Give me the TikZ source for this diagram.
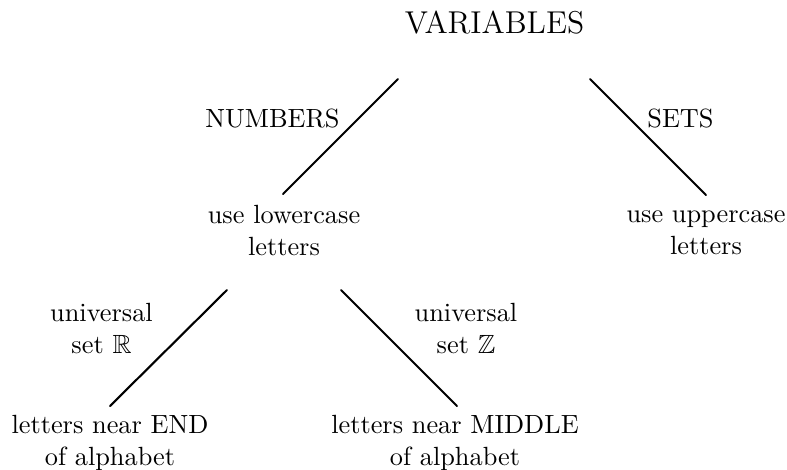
\documentclass[tikz,border=0pt]{standalone}
\usepackage{amssymb}
\usetikzlibrary{calc}
\tikzset{
  lbl/.style={inner sep=0pt, outer sep=0pt, align=center, anchor=base},
  edgeline/.style={line width=0.8pt, line cap=round},
}
\begin{document}
\begin{tikzpicture}[x=0.38pt, y=-0.38pt]
\useasboundingbox (0,0) rectangle (787,469);
% nodes (base = baseline of the last line)
\node[lbl, font=\large] (root) at (494.5,33) {VARIABLES};
\node[lbl] (lc) at (284,255) {use lowercase\\letters};
\node[lbl] (uc) at (706,254) {use uppercase\\letters};
\node[lbl] (endn) at (110,465) {letters near END\\of alphabet};
\node[lbl] (midn) at (455,465) {letters near MIDDLE\\of alphabet};
% edge labels
\node[lbl] (numl) at (272.5,127) {NUMBERS};
\node[lbl] (setl) at (680.5,127) {SETS};
\node[lbl] (rl) at (101.5,353) {universal\\set $\mathbb{R}$};
\node[lbl] (zl) at (466,353) {universal\\set $\mathbb{Z}$};
% edges
\draw[edgeline] ($(root.base)+(-96.5,46)$) -- ($(lc.base)+(-1,-61)$);
\draw[edgeline] ($(root.base)+(95.5,46)$) -- ($(uc.base)+(0,-59)$);
\draw[edgeline] ($(lc.base)+(-57,35)$) -- ($(endn.base)+(0,-59)$);
\draw[edgeline] ($(lc.base)+(57,35)$) -- ($(midn.base)+(2,-59)$);
\end{tikzpicture}
\end{document}
